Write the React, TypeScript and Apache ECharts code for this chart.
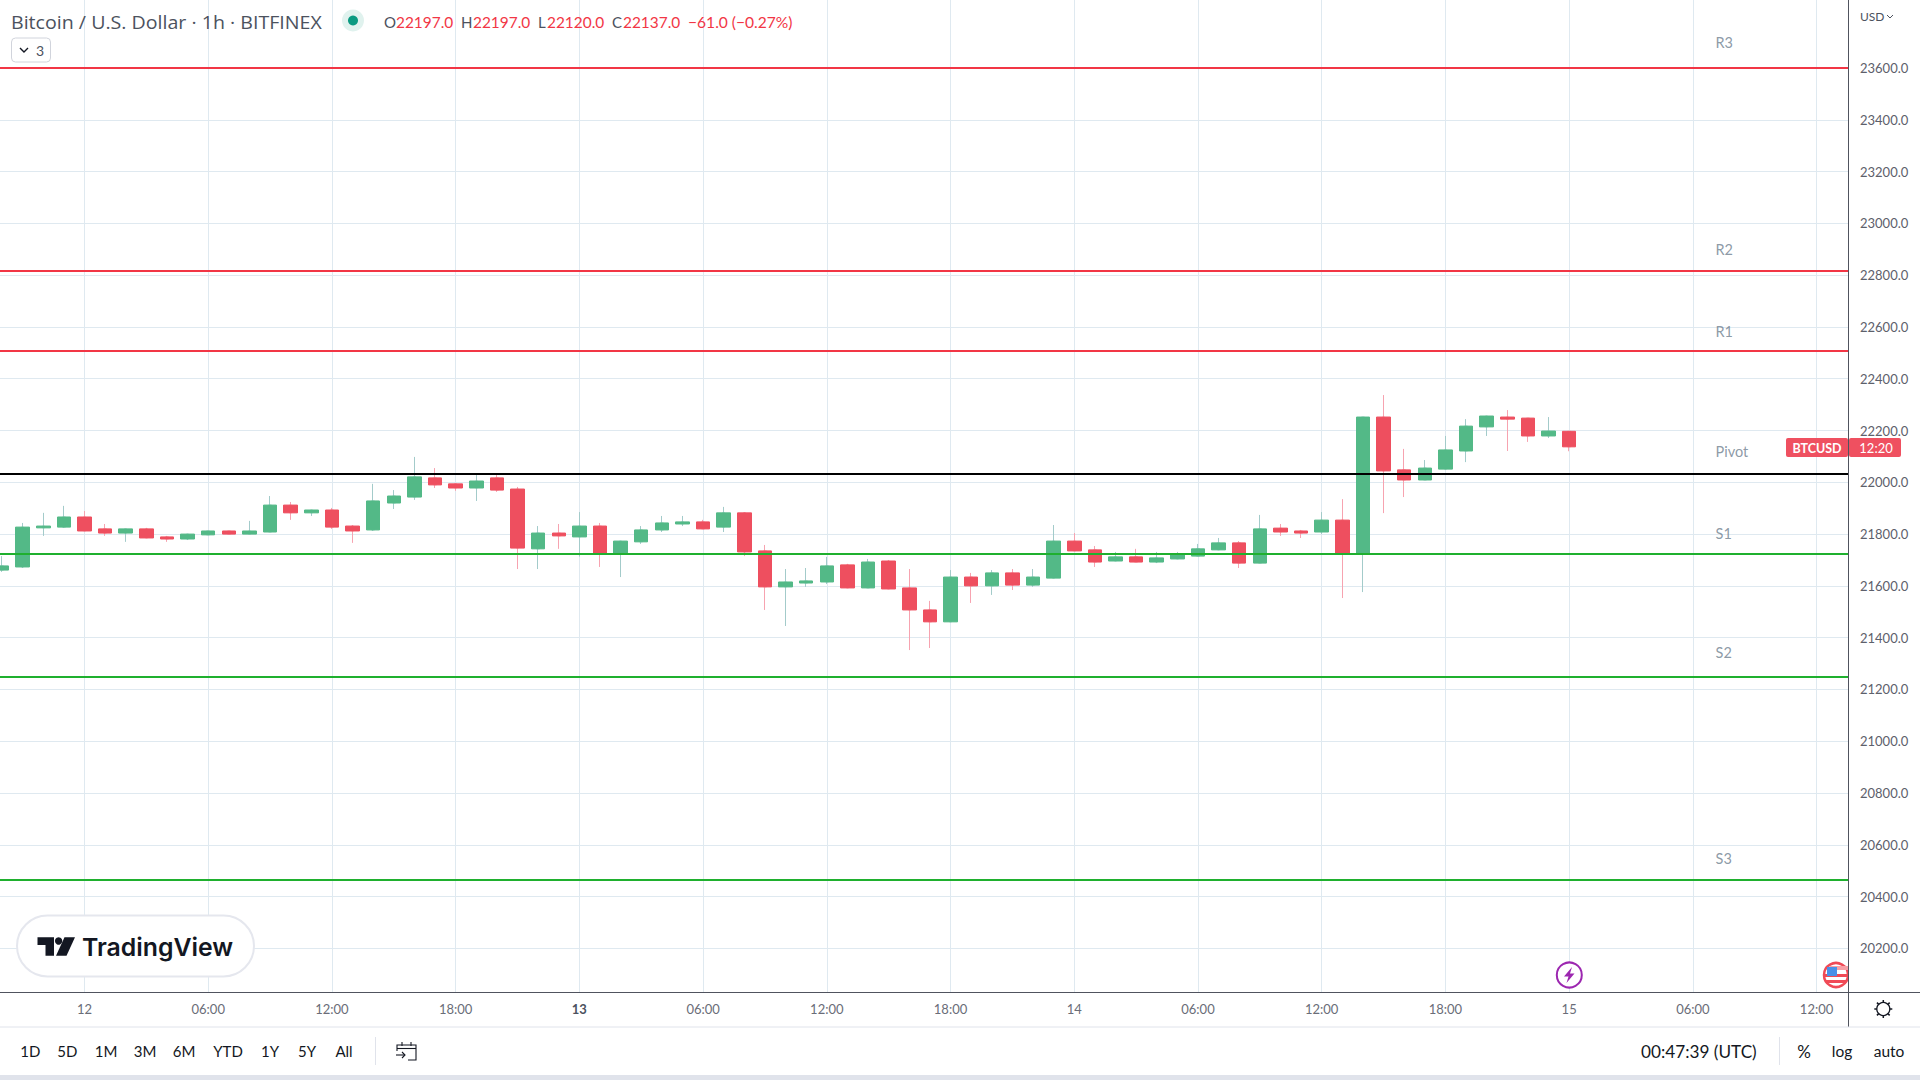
import React, { useEffect, useRef } from "react";
import * as echarts from "echarts";

const FONT = "Lato, 'Noto Sans', sans-serif";

// hour offsets from the start of day 12, one candle per hour
const firstHour = -4;
const opens = [21661,21673,21824,21827,21866,21820,21804,21820,21789,21781,21797,21812,21800,21808,21912,21882,21893,21831,21816,21920,21943,22017,21994,21978,22017,21974,21743,21804,21789,21831,21727,21770,21816,21839,21847,21827,21882,21735,21596,21611,21615,21681,21592,21696,21592,21507,21461,21634,21600,21650,21603,21630,21773,21739,21696,21712,21692,21704,21715,21739,21766,21688,21823,21812,21808,21854,21726,22252,22048,22009,22051,22121,22214,22252,22248,22179,22197];
const closes = [21677,21827,21831,21866,21812,21804,21820,21785,21781,21800,21812,21800,21812,21912,21882,21893,21827,21812,21928,21947,22021,21990,21978,22005,21970,21746,21804,21793,21831,21726,21773,21816,21843,21847,21820,21882,21731,21596,21615,21619,21677,21592,21692,21588,21507,21461,21634,21600,21650,21603,21634,21773,21735,21692,21712,21692,21708,21723,21743,21766,21688,21820,21808,21804,21854,21726,22252,22044,22009,22055,22125,22217,22256,22244,22179,22198,22137];
const lows = [21654,21669,21793,21824,21812,21793,21770,21785,21770,21777,21797,21800,21800,21808,21855,21870,21820,21766,21812,21897,21932,21978,21967,21928,21963,21665,21665,21743,21713,21673,21634,21762,21808,21831,21820,21808,21715,21507,21445,21596,21607,21592,21592,21588,21352,21360,21461,21534,21565,21584,21596,21630,21735,21673,21696,21692,21688,21704,21715,21739,21669,21688,21793,21785,21800,21553,21576,21881,21943,22009,22051,22078,22179,22121,22156,22171,22120];
const highs = [21715,21843,21882,21909,21889,21839,21820,21824,21793,21800,21812,21812,21851,21947,21924,21893,21901,21835,21994,21970,22098,22055,21994,22028,22028,21982,21831,21839,21885,21843,21773,21831,21870,21870,21855,21905,21885,21758,21665,21669,21712,21685,21704,21700,21665,21542,21661,21650,21661,21665,21665,21835,21804,21754,21731,21743,21731,21731,21762,21785,21773,21874,21839,21816,21885,21935,22252,22337,22129,22086,22179,22244,22256,22279,22248,22252,22197];

const levelNames = ["R3", "R2", "R1", "Pivot", "S1", "S2", "S3"];
const levelValues = [23600, 22816, 22507, 22032, 21723, 21248, 20464];
const levelColors = ["#f23645", "#f23645", "#f23645", "#000000", "#1fb02e", "#1fb02e", "#1fb02e"];
const levelLabelValues = [23698, 22900, 22582, 22118, 21802, 21342, 20546];

const yTicks = [20200,20400,20600,20800,21000,21200,21400,21600,21800,22000,22200,22400,22600,22800,23000,23200,23400,23600];
const xTicks = [0,6,12,18,24,30,36,42,48,54,60,66,72,78,84];
const xTickLabels = ["12","06:00","12:00","18:00","13","06:00","12:00","18:00","14","06:00","12:00","18:00","15","06:00","12:00"];
const rangeButtons = ["1D","5D","1M","3M","6M","YTD","1Y","5Y","All"];
const rangeButtonX = [30.4,67.4,106,145,184,228,270,307,344];

const xMin = -4.098, xMax = 85.524, yMin = 20031.3, yMax = 23862.9;
const levelLabelHour = 79.1;

const text = (t: string, x: number, y: number, fill: string, size: number, extra: any = {}) => ({
  type: "text", x, y, z: 20, silent: true, scaleX: extra.scaleX || 1,
  style: { text: t, fill, font: `${extra.weight || "normal"} ${size}px ${extra.family || FONT}`, textAlign: extra.align || "left", textVerticalAlign: "middle" },
});
const line = (x1: number, y1: number, x2: number, y2: number, stroke: string, lineWidth = 1) => ({
  type: "line", z: 20, silent: true, shape: { x1, y1, x2, y2 }, style: { stroke, lineWidth },
});
const poly = (points: number[][], fill: string) => ({ type: "polygon", z: 20, silent: true, shape: { points }, style: { fill } });
const pline = (points: number[][], stroke: string, lineWidth = 1.3) => ({ type: "polyline", z: 20, silent: true, shape: { points }, style: { stroke, lineWidth, fill: "none" } });
const rect = (x: number, y: number, width: number, height: number, style: any, r = 0) => ({ type: "rect", z: 20, silent: true, shape: { x, y, width, height, r }, style });
const circle = (cx: number, cy: number, r: number, style: any) => ({ type: "circle", z: 20, silent: true, shape: { cx, cy, r }, style });

function gearSpikes(cx: number, cy: number) {
  const out: any[] = [];
  for (let i = 0; i < 8; i++) {
    const a = (i * Math.PI) / 4;
    out.push(line(cx + Math.cos(a) * 6.5, cy + Math.sin(a) * 6.5, cx + Math.cos(a) * 9, cy + Math.sin(a) * 9, "#131722", 1.5));
  }
  return out;
}

const graphics: any[] = [
  // header
  text("Bitcoin / U.S. Dollar · 1h · BITFINEX", 11, 22, "#4c525e", 18, { family: "'Open Sans', sans-serif", scaleX: 1.09 }),
  circle(353, 20.5, 11, { fill: "#e0f2ee" }),
  circle(353, 20.5, 5, { fill: "#0a9a81" }),
  text("O", 384, 22, "#4c525e", 15),
  text("22197.0", 396, 22, "#f23645", 15.4),
  text("H", 461, 22, "#4c525e", 15),
  text("22197.0", 473, 22, "#f23645", 15.4),
  text("L", 538, 22, "#4c525e", 15),
  text("22120.0", 547, 22, "#f23645", 15.4),
  text("C", 612, 22, "#4c525e", 15),
  text("22137.0", 623, 22, "#f23645", 15.4),
  text("−61.0 (−0.27%)", 688, 22, "#f23645", 15.6),
  rect(11.5, 38, 39, 24, { fill: "#fff", stroke: "#d1d4dc", lineWidth: 1 }, 4),
  pline([[20, 48], [24, 52], [28, 48]], "#131722", 1.4),
  text("3", 36, 50, "#4c525e", 14),
  // USD
  text("USD", 1860, 16, "#4c525e", 12),
  pline([[1887, 15], [1890, 18], [1893, 15]], "#4c525e", 1),
  // price tag
  rect(1786, 438, 62, 19, { fill: "#ef5060" }, 2),
  rect(1849, 438, 52, 19, { fill: "#ef5060" }, 2),
  text("BTCUSD", 1817, 448, "#ffffff", 12.5, { align: "center", weight: "bold" }),
  text("12:20", 1876, 448, "#ffffff", 13, { align: "center" }),
  // logo
  rect(17, 915.5, 237, 61, { fill: "#ffffff", stroke: "#e5e7ee", lineWidth: 2 }, 30.5),
  poly([[37.5, 937.3], [54, 937.3], [54, 955.7], [45.5, 955.7], [45.5, 945], [37.5, 945]], "#131722"),
  circle(58.6, 941, 3.7, { fill: "#131722" }),
  poly([[64.5, 937.3], [75, 937.3], [66.5, 955.7], [56, 955.7]], "#131722"),
  text("TradingView", 82, 947, "#131722", 24.8, { weight: "600", family: "Inter, Roboto, sans-serif" }),
  // events
  circle(1569.3, 975, 12.5, { fill: "#ffffff", stroke: "#9c27b0", lineWidth: 2 }),
  poly([[1572, 967], [1564, 976.5], [1568.5, 976.5], [1566.5, 983], [1574.5, 973.5], [1570, 973.5]], "#9c27b0"),
  circle(1836, 975, 12, { fill: "#ffffff", stroke: "#f04a56", lineWidth: 2.5 }),
  rect(1829, 966, 19, 4, { fill: "#f8a0a6" }),
  rect(1825, 974, 23, 3, { fill: "#f04a56" }),
  rect(1826, 980, 20, 3, { fill: "#f04a56" }),
  rect(1827, 967, 10, 9, { fill: "#4a90e8" }),
  rect(1849, 958, 16, 33, { fill: "#ffffff" }),
  line(1848.5, 955, 1848.5, 992, "#50535e", 1),
  // axis extensions
  line(1848, 992.5, 1920, 992.5, "#50535e", 1),
  line(1848.5, 992, 1848.5, 1027, "#50535e", 1),
  line(0, 1027, 1920, 1027, "#e0e3eb", 1),
  // gear
  circle(1883.3, 1009, 6.5, { fill: "none", stroke: "#131722", lineWidth: 1.3 }),
  ...gearSpikes(1883.3, 1009),
  // bottom toolbar
  ...rangeButtons.map((b, i) => text(b, rangeButtonX[i], 1051, "#131722", 15, { align: "center" })),
  line(375.5, 1037, 375.5, 1065, "#e0e3eb", 1),
  pline([[416, 1052], [416, 1045], [397, 1045], [397, 1051]], "#131722", 1.1),
  line(397, 1048.5, 416, 1048.5, "#131722", 1.1),
  line(402, 1042, 402, 1046, "#131722", 1.1),
  line(411, 1042, 411, 1046, "#131722", 1.1),
  pline([[416, 1052], [416, 1060], [408, 1060]], "#131722", 1.1),
  line(396, 1055, 405, 1055, "#131722", 1.1),
  pline([[402, 1052], [405, 1055], [402, 1058]], "#131722", 1.1),
  text("00:47:39 (UTC)", 1641, 1051, "#131722", 17.2),
  line(1779.5, 1037, 1779.5, 1065, "#e0e3eb", 1),
  text("%", 1804, 1051, "#131722", 17, { align: "center" }),
  text("log", 1842, 1051, "#131722", 15.5, { align: "center" }),
  text("auto", 1889, 1051, "#131722", 15.5, { align: "center" }),
  rect(0, 1075, 1920, 5, { fill: "#e0e3eb" }),
];

export default function App() {
  const ref = useRef<HTMLDivElement>(null);
  useEffect(() => {
    document.body.style.margin = "0";
    document.body.style.background = "#fff";
    const chart = echarts.init(ref.current!, undefined, { renderer: "svg" });
    const hours = opens.map((_, i) => firstHour + i);
    const wicks = hours.map((h, i) => [h, opens[i], closes[i], lows[i], highs[i]]);
    const bodies = hours.map((h, i) => [h, opens[i], closes[i], Math.min(opens[i], closes[i]), Math.max(opens[i], closes[i])]);
    chart.setOption({
      animation: false,
      backgroundColor: "#ffffff",
      textStyle: { fontFamily: FONT },
      grid: { left: 0, top: 0, width: 1848, height: 992, containLabel: false },
      xAxis: {
        type: "value", min: xMin, max: xMax,
        axisLine: { show: true, lineStyle: { color: "#50535e" } },
        axisTick: { show: false, customValues: xTicks },
        axisLabel: {
          customValues: xTicks, margin: 10, color: "#6a6d78", fontSize: 13, fontFamily: FONT,
          formatter: (v: number) => {
            const l = xTickLabels[xTicks.indexOf(v)] ?? "";
            return l === "13" ? `{b|${l}}` : l;
          },
          rich: { b: { fontWeight: "bold", color: "#4c525e", fontSize: 13, fontFamily: FONT } },
        },
        splitLine: { show: true, lineStyle: { color: "#dfe9f0", width: 1 } },
      },
      yAxis: {
        type: "value", position: "right", min: yMin, max: yMax,
        axisLine: { show: true, onZero: false, lineStyle: { color: "#50535e" } },
        axisTick: { show: false, customValues: yTicks },
        axisLabel: {
          customValues: yTicks, margin: 12, color: "#5d606b", fontSize: 13, fontFamily: FONT,
          formatter: (v: number) => v.toFixed(1),
        },
        splitLine: { show: true, lineStyle: { color: "#dfe9f0", width: 1 } },
      },
      series: [
        {
          type: "candlestick", name: "wicks", data: wicks, barWidth: 3, z: 2,
          encode: { x: 0, y: [1, 2, 3, 4] },
          itemStyle: { color: "#a3cbca", color0: "#f7a3b0", borderColor: "#a3cbca", borderColor0: "#f7a3b0", borderWidth: 1 },
        },
        {
          type: "candlestick", name: "BTCUSD", data: bodies, barWidth: 14, z: 3,
          encode: { x: 0, y: [1, 2, 3, 4] },
          itemStyle: { color: "#53b987", color0: "#ee4f5f", borderColor: "#53b987", borderColor0: "#ee4f5f", borderWidth: 1 },
        },
        ...levelNames.map((n, i) => ({
          type: "line", name: n, z: 5, showSymbol: false, silent: true,
          data: [[xMin, levelValues[i]], [xMax, levelValues[i]]],
          lineStyle: { color: levelColors[i], width: 2 },
        })),
        {
          type: "scatter", name: "labels", z: 6, symbolSize: 0, silent: true,
          data: levelNames.map((n, i) => ({ name: n, value: [levelLabelHour, levelLabelValues[i]] })),
          label: { show: true, position: "right", distance: 0, formatter: "{b}", color: "#6f7f8f", fontSize: 14.5, fontFamily: FONT },
        },
      ],
      graphic: { elements: graphics },
    });
    return () => chart.dispose();
  }, []);
  return <div ref={ref} style={{ position: "fixed", left: 0, top: 0, width: 1920, height: 1080 }} />;
}
